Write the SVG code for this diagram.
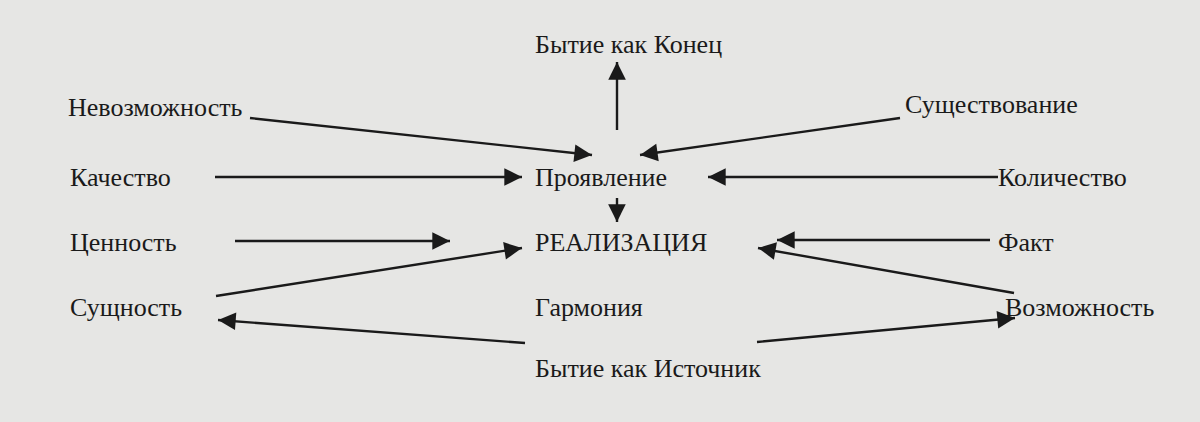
<svg xmlns="http://www.w3.org/2000/svg" width="1200" height="422" viewBox="0 0 1200 422">
<style>
text{font-family:"Liberation Serif","DejaVu Serif",serif;font-size:26px;fill:#1a1a1a}
.c line{stroke:#1a1a1a;stroke-width:2.4;marker-end:url(#a)}
</style>
<defs><marker id="a" viewBox="0 0 10 10" refX="10" refY="5" markerWidth="8" markerHeight="8" markerUnits="userSpaceOnUse" orient="auto" style="overflow:visible"><path d="M0,0L10,5L0,10z" fill="#1a1a1a" transform="scale(2.2) translate(-5.5,-2.7)"/></marker></defs>
<rect width="1200" height="422" fill="#e6e6e4"/>
<g id="n1"><text x="535" y="53">Бытие как Конец</text></g>
<g id="n2"><text x="68" y="116">Невозможность</text></g>
<g id="n3"><text x="905" y="113">Существование</text></g>
<g id="n4"><text x="70" y="186">Качество</text></g>
<g id="n5"><text x="535" y="186">Проявление</text></g>
<g id="n6"><text x="998" y="186">Количество</text></g>
<g id="n7"><text x="70" y="251">Ценность</text></g>
<g id="n8"><text x="535" y="251">РЕАЛИЗАЦИЯ</text></g>
<g id="n9"><text x="998" y="251">Факт</text></g>
<g id="n10"><text x="70" y="316">Сущность</text></g>
<g id="n11"><text x="535" y="316">Гармония</text></g>
<g id="n12"><text x="1005" y="316">Возможность</text></g>
<g id="n13"><text x="535" y="377">Бытие как Источник</text></g>
<g class="c">
<line x1="617" y1="130" x2="617" y2="62"/>
<line x1="250" y1="118" x2="592" y2="155"/>
<line x1="900" y1="118" x2="640" y2="155"/>
<line x1="215" y1="177" x2="522" y2="177"/>
<line x1="998" y1="177" x2="708" y2="177"/>
<line x1="617" y1="198" x2="617" y2="222"/>
<line x1="235" y1="241" x2="450" y2="241"/>
<line x1="216" y1="296" x2="522" y2="248"/>
<line x1="990" y1="240" x2="777" y2="240"/>
<line x1="1014" y1="293" x2="758" y2="248"/>
<line x1="525" y1="343" x2="218" y2="320"/>
<line x1="757" y1="342" x2="1015" y2="318"/>
</g>
</svg>
